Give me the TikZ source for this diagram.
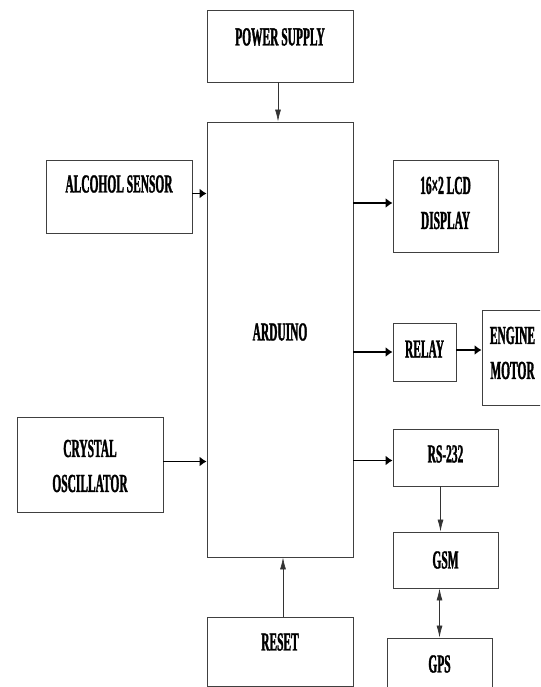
\documentclass[tikz,border=0pt]{standalone}
\usepackage{fontspec}
\newfontfamily\blkfont[FakeStretch=0.44, FakeBold=1.2]{Liberation Serif Bold}
\usetikzlibrary{positioning}
\usetikzlibrary{calc}
\usetikzlibrary{arrows.meta}

\tikzset{
  blk/.style={draw=black!75, line width=0.9pt, inner sep=0pt},
  lbl/.style={font=\blkfont\fontsize{26}{35}\selectfont, align=center, inner sep=0pt},
  harr/.style={-{Latex[length=7pt, width=10pt]}, line width=1.3pt},
  varr/.style={-{Latex[length=12pt, width=6pt]}, line width=0.7pt, black!80},
}

\begin{document}
\begin{tikzpicture}[x=1pt, y=-1pt]
    \clip (0,0) rectangle (540,687);

    % blocks
    \node[blk, minimum width=146pt, minimum height=72pt]  (pwr)  at (280, 46)    {};
    \node[blk, minimum width=146pt, minimum height=435pt] (ard)  at (280, 339.5) {};
    \node[blk, minimum width=146pt, minimum height=73pt]  (alc)  at (119, 196.5) {};
    \node[blk, minimum width=105pt, minimum height=92pt]  (lcd)  at (445.5, 206) {};
    \node[blk, minimum width=63pt,  minimum height=58pt]  (rly)  at (424.5, 352) {};
    \node[blk, minimum width=61pt,  minimum height=95pt]  (eng)  at (512.5, 357.5) {};
    \node[blk, minimum width=146pt, minimum height=95pt]  (xtal) at (90, 464.5)  {};
    \node[blk, minimum width=105pt, minimum height=57pt]  (rs)   at (445.5, 457.5) {};
    \node[blk, minimum width=105pt, minimum height=56pt]  (gsm)  at (445.5, 560) {};
    \node[blk, minimum width=105pt, minimum height=62pt]  (gps)  at (439.5, 669) {};
    \node[blk, minimum width=146pt, minimum height=69pt]  (rst)  at (280, 651.5) {};

    % texts
    \node[lbl] (pwrtxt)  at (280, 37)    {POWER SUPPLY};
    \node[lbl] (ardtxt)  at (280, 332)   {ARDUINO};
    \node[lbl] (alctxt)  at (119, 184)   {ALCOHOL SENSOR};
    \node[lbl] (lcdtxt)  at (445.5, 203) {16\texttimes2 LCD\\DISPLAY};
    \node[lbl] (rlytxt)  at (424.5, 349) {RELAY};
    \node[lbl] (engtxt)  at (512.5, 353) {ENGINE\\MOTOR};
    \node[lbl] (xtaltxt) at (90, 466)    {CRYSTAL\\OSCILLATOR};
    \node[lbl] (rstxt)   at (445.5, 454) {RS-232};
    \node[lbl] (gsmtxt)  at (445.5, 560) {GSM};
    \node[lbl] (gpstxt)  at (439.5, 664) {GPS};
    \node[lbl] (rsttxt)  at (280, 642)   {RESET};

    % connections
    \draw[varr] ([xshift=-2pt]pwr.south) -- ([xshift=-2pt]pwr.south |- ard.north);
    \draw[harr] ([yshift=3pt]alc.east) -- ([yshift=3pt]alc.east -| ard.west);
    \draw[harr] ([yshift=3pt]lcd.west -| ard.east) -- ([yshift=3pt]lcd.west);
    \draw[harr] (rly.west -| ard.east) -- (rly.west);
    \draw[harr] ([yshift=2pt]rly.east) -- ([yshift=2pt]rly.east -| eng.west);
    \draw[harr] ([yshift=3pt]xtal.east) -- ([yshift=3pt]xtal.east -| ard.west);
    \draw[harr] ([yshift=-3pt]rs.west -| ard.east) -- ([yshift=-3pt]rs.west);
    \draw[varr] ([xshift=-5pt]rs.south) -- ([xshift=-5pt]rs.south |- gsm.north);
    \draw[varr, {Latex[length=12pt, width=6pt]}-{Latex[length=12pt, width=6pt]}] (gps.north) -- (gps.north |- gsm.south);
    \draw[varr] ([xshift=3pt]rst.north) -- ([xshift=3pt]rst.north |- ard.south);
\end{tikzpicture}
\end{document}
